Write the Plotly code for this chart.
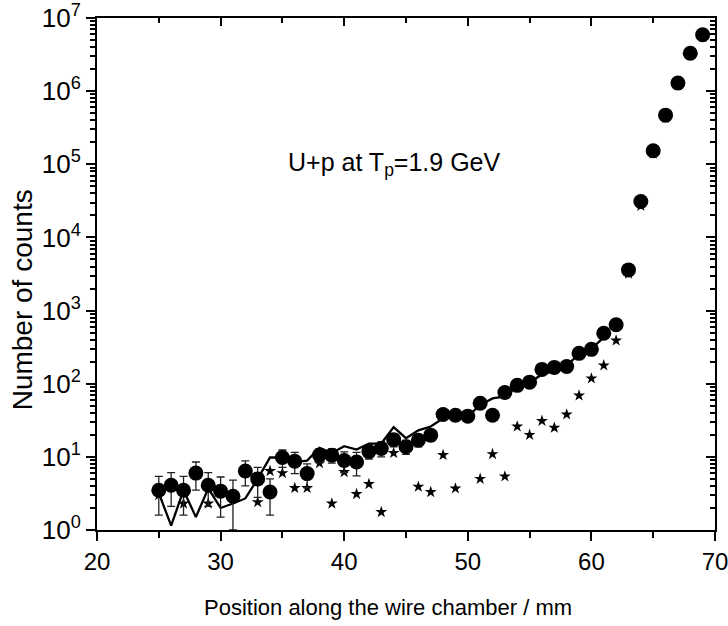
import plotly.graph_objects as go

# ---- data ----
positions = list(range(25, 70))  # 25 .. 69 mm

counts_measured = [3.5, 4.1, 3.5, 6.0, 4.1, 3.4, 2.9, 6.4, 5.0, 3.3,
                   9.8, 8.7, 5.9, 10.6, 10.5, 8.9, 8.5, 11.8, 13.0, 17.2,
                   13.8, 16.9, 19.8, 38, 37, 36, 54, 37, 76, 95,
                   105, 157, 167, 172, 260, 295, 490, 640, 3600, 31000,
                   153000, 470000, 1290000, 3300000, 5900000]
errors_measured = [1.9, 2.0, 1.9, 2.5, 2.0, 1.9, 1.9, 2.4, 2.2, 1.7,
                   2.6, 2.8, 2.1, 2.3, 2.3, 2.8, 3.0, 2.5, 3.0, 3.5,
                   3.0, 3.2, 3.5, 3.0, 3.0, 3.0, 4, 4, 5, 6,
                   7, 8, 9, 10, 12, 14, 18, 22, 60, 180,
                   400, 700, 1100, 1900, 2400]

sim_positions = list(range(25, 62))  # 25 .. 61 mm
counts_simulated = [3.2, 1.15, 3.5, 1.5, 3.7, 2.0, 2.3, 2.7, 5.0, 9.8,
                    9.8, 8.5, 8.9, 13.3, 11.3, 14.0, 12.6, 15.2, 15.2, 25.5,
                    18.0, 23, 26, 33.7, 36, 36, 51, 63, 67, 92,
                    104, 134, 148, 178, 253, 300, 430]

counts_stars = [3.0, None, 2.3, None, 2.3, None, None, None, 2.4, 6.4,
                6.0, 3.75, 3.75, 8.2, 2.3, 6.2, 3.1, 4.25, 1.76, 11.3,
                None, 3.9, 3.3, 10.6, 3.7, None, 5.0, 10.9, 5.4, 26,
                20, 31, 25, 38, 69, 118, 178, 390, 3200, 27000,
                140000, 430000, 1200000, 3100000, 5500000]

x_major = [20, 30, 40, 50, 60, 70]
x_minor = [25, 35, 45, 55, 65]
y_major = [10 ** k for k in range(0, 8)]
y_major_text = ["10<sup>%d</sup>" % k for k in range(0, 8)]
y_minor = [m * 10 ** k for k in range(0, 7) for m in range(2, 10)]

FONT = "Liberation Sans, Arial, sans-serif"

fig = go.Figure()

fig.add_trace(go.Scatter(
    x=positions, y=counts_stars, mode="markers",
    marker=dict(symbol="star", size=9, color="black", line=dict(width=0)),
    showlegend=False, connectgaps=False))

fig.add_trace(go.Scatter(
    x=sim_positions, y=counts_simulated, mode="lines",
    line=dict(color="black", width=2.3), showlegend=False))

fig.add_trace(go.Scatter(
    x=positions, y=counts_measured, mode="markers",
    marker=dict(symbol="circle", size=15, color="black", line=dict(width=0)),
    error_y=dict(type="data", array=errors_measured, visible=True,
                 color="#222222", thickness=1.3, width=4),
    showlegend=False))

# invisible trace to carry the mirrored (top/right) axes
fig.add_trace(go.Scatter(x=[20, 70], y=[1, 1e7], xaxis="x2", yaxis="y2",
                         mode="markers", marker=dict(opacity=0),
                         showlegend=False, hoverinfo="skip"))

axis_common = dict(showgrid=False, zeroline=False, showline=True,
                   linecolor="black", linewidth=2, automargin=False,
                   ticklabeloverflow="allow")

fig.update_layout(
    width=728, height=626,
    margin=dict(l=97, r=13, t=18, b=96, autoexpand=False),
    paper_bgcolor="white", plot_bgcolor="white",
    font=dict(family=FONT, color="black"),
    xaxis=dict(range=[20, 70], tickmode="array", tickvals=x_major,
               ticks="outside", ticklen=9, tickwidth=2, tickcolor="black",
               tickfont=dict(size=24, family=FONT),
               minor=dict(tickmode="array", tickvals=x_minor, ticks="outside",
                          ticklen=6, tickwidth=2, tickcolor="black"),
               **axis_common),
    yaxis=dict(type="log", range=[0, 7], tickmode="array",
               tickvals=y_major, ticktext=y_major_text,
               ticks="outside", ticklen=9, tickwidth=2, tickcolor="black",
               tickfont=dict(size=26, family=FONT),
               minor=dict(tickmode="array", tickvals=y_minor, ticks="outside",
                          ticklen=5, tickwidth=1.5, tickcolor="black"),
               **axis_common),
    xaxis2=dict(overlaying="x", side="top", range=[20, 70], tickmode="array",
                tickvals=x_major, showticklabels=False,
                ticks="inside", ticklen=8, tickwidth=2, tickcolor="black",
                minor=dict(tickmode="array", tickvals=x_minor, ticks="inside",
                           ticklen=5, tickwidth=2, tickcolor="black"),
                **axis_common),
    yaxis2=dict(overlaying="y", side="right", type="log", range=[0, 7],
                tickmode="array", tickvals=y_major, showticklabels=False,
                ticks="inside", ticklen=9, tickwidth=2, tickcolor="black",
                minor=dict(tickmode="array", tickvals=y_minor, ticks="inside",
                           ticklen=5, tickwidth=1.5, tickcolor="black"),
                **axis_common),
    annotations=[
        dict(text="U+p at T<sub>p</sub>=1.9 GeV", x=44.1, y=5.0,
             xref="x", yref="y", showarrow=False,
             font=dict(size=25, family=FONT, color="black")),
        dict(text="Position along the wire chamber / mm", x=0.471, y=-0.152,
             xref="paper", yref="paper", showarrow=False,
             xanchor="center", yanchor="middle",
             font=dict(size=22, family=FONT, color="black")),
        dict(text="Number of counts", x=-0.121, y=0.449,
             xref="paper", yref="paper", showarrow=False, textangle=-90,
             xanchor="center", yanchor="middle",
             font=dict(size=28, family=FONT, color="black")),
    ],
)

fig.write_html(
    "out.html",
    config={"displayModeBar": False},
    post_script="document.body.style.margin='0';document.body.style.padding='0';"
                "document.body.style.overflow='hidden';",
)
